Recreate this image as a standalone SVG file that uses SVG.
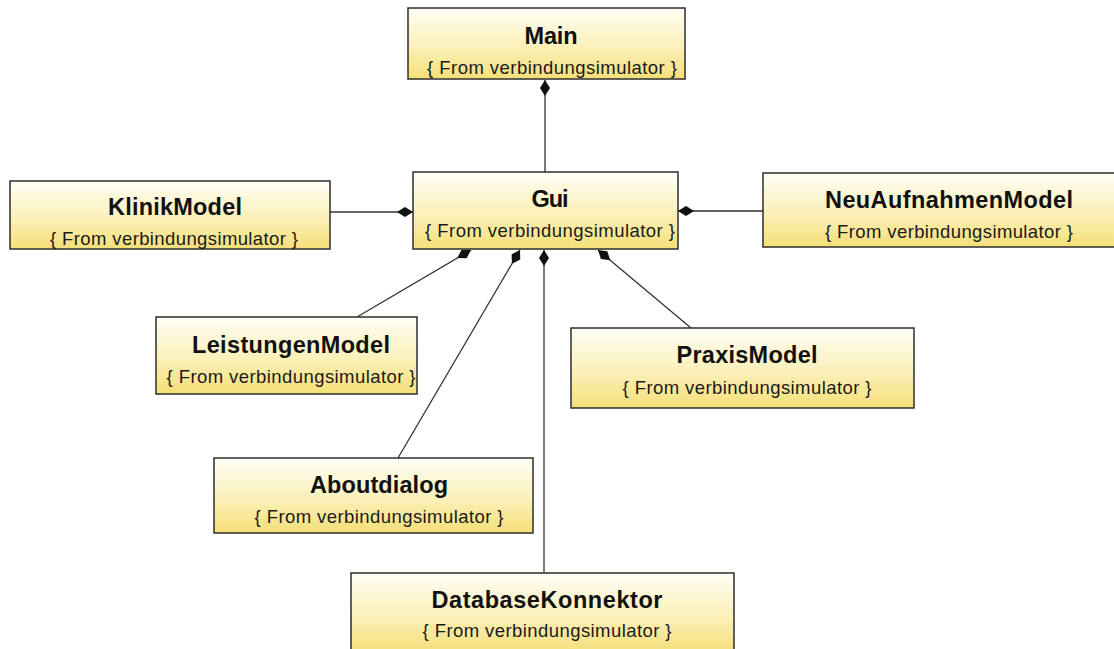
<svg xmlns="http://www.w3.org/2000/svg" width="1114" height="649" viewBox="0 0 1114 649">
  <defs>
    <linearGradient id="boxFill" x1="0" y1="0" x2="0" y2="1">
      <stop offset="0" stop-color="#fffef6"/>
      <stop offset="0.55" stop-color="#fbf0b8"/>
      <stop offset="1" stop-color="#f5df78"/>
    </linearGradient>
    <!-- filled diamond for composition ends -->
    <marker id="diamond" markerUnits="userSpaceOnUse" markerWidth="18" markerHeight="12" viewBox="0 -6 18 12" refX="0" refY="0" orient="auto">
      <path d="M0,0 L8,-5 L16,0 L8,5 Z" fill="#111"/>
    </marker>
  </defs>
  <style>
    .box { fill: url(#boxFill); stroke: #2e2e2e; stroke-width: 1.5; }
    .title { font-family: "Liberation Sans", Arial, sans-serif; font-weight: bold; font-size: 23.5px; fill: #111; text-anchor: middle; }
    .sub { font-family: "Liberation Sans", Arial, sans-serif; font-size: 18.5px; fill: #1a1a1a; text-anchor: middle; }
    .conn { fill: none; stroke: #333; stroke-width: 1.3; marker-start: url(#diamond); }
  </style>
  <rect width="1114" height="649" fill="#ffffff"/>

  <g id="connectors">
    <path class="conn" d="M545,80 L545,172"/>
    <path class="conn" d="M413,212 L330,212"/>
    <path class="conn" d="M678,211 L763,211"/>
    <path class="conn" d="M471,250 L357,317"/>
    <path class="conn" d="M520,250 L398,458"/>
    <path class="conn" d="M544,250 L544,573"/>
    <path class="conn" d="M598,250 L691,328"/>
  </g>

  <g id="main">
    <rect class="box" x="408" y="8" width="277" height="71"/>
    <text class="title" x="551" y="44" textLength="53">Main</text>
    <text class="sub" x="552" y="74" textLength="250">{ From verbindungsimulator }</text>
  </g>

  <g id="gui">
    <rect class="box" x="413" y="172" width="265" height="77"/>
    <text class="title" x="550" y="207" textLength="37">Gui</text>
    <text class="sub" x="550" y="237" textLength="250">{ From verbindungsimulator }</text>
  </g>

  <g id="klinikModel">
    <rect class="box" x="10" y="181" width="320" height="68"/>
    <text class="title" x="175" y="215" textLength="134">KlinikModel</text>
    <text class="sub" x="174" y="245" textLength="248">{ From verbindungsimulator }</text>
  </g>

  <g id="neuAufnahmenModel">
    <rect class="box" x="763" y="173" width="362" height="74"/>
    <text class="title" x="949" y="208" textLength="248">NeuAufnahmenModel</text>
    <text class="sub" x="949" y="238" textLength="248">{ From verbindungsimulator }</text>
  </g>

  <g id="leistungenModel">
    <rect class="box" x="156" y="317" width="261" height="77"/>
    <text class="title" x="291" y="353" textLength="198">LeistungenModel</text>
    <text class="sub" x="291" y="383" textLength="249">{ From verbindungsimulator }</text>
  </g>

  <g id="praxisModel">
    <rect class="box" x="571" y="328" width="343" height="80"/>
    <text class="title" x="747" y="363" textLength="141">PraxisModel</text>
    <text class="sub" x="747" y="394" textLength="249">{ From verbindungsimulator }</text>
  </g>

  <g id="aboutdialog">
    <rect class="box" x="214" y="458" width="319" height="75"/>
    <text class="title" x="379" y="493" textLength="138">Aboutdialog</text>
    <text class="sub" x="379" y="523" textLength="249">{ From verbindungsimulator }</text>
  </g>

  <g id="databaseKonnektor">
    <rect class="box" x="351" y="573" width="383" height="80"/>
    <text class="title" x="547" y="608" textLength="231">DatabaseKonnektor</text>
    <text class="sub" x="547" y="637" textLength="249">{ From verbindungsimulator }</text>
  </g>
</svg>
